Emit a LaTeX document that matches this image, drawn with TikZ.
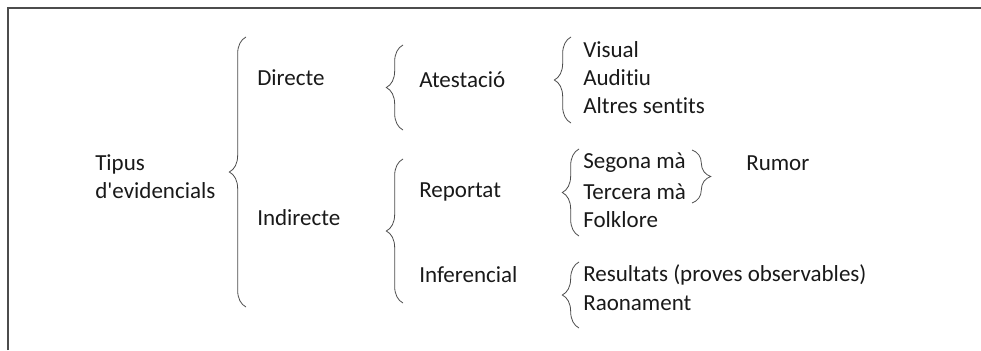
\documentclass[tikz,border=0pt]{standalone}
\usepackage{fontspec}
\setmainfont{Carlito}[Ligatures={NoCommon}]
\usetikzlibrary{decorations.pathreplacing,positioning}

\begin{document}
\begin{tikzpicture}[x=0.75pt,y=-0.75pt,
  word/.style={anchor=west,inner sep=0pt,text=black!90,
    font=\fontsize{17.25}{21}\selectfont},
  curly/.style={decorate,decoration={brace,amplitude=#1,aspect=0.5},
    draw=black!70,line width=0.6pt},
  curly/.default=12.5pt]

  \useasboundingbox (0,0) rectangle (981,350);
  \draw[black!70,line width=1.4pt] (8,350) -- (8,8) -- (981,8);

  % labels
  \node[word,align=left] (tipus) at (95,177) {Tipus\\d\textquotesingle evidencials};
  \node[word] (directe) at (257,78) {Directe};
  \node[word] (indirecte) at (257,218) {Indirecte};
  \node[word] (atestacio) at (419,80) {Atestació};
  \node[word] (reportat) at (419,192) {Reportat};
  \node[word] (inferencial) at (419,275) {Inferencial};
  \node[word] (visual) at (583,50) {Visual};
  \node[word] (auditiu) at (583,78) {Auditiu};
  \node[word] (altres) at (583,106) {Altres sentits};
  \node[word] (segona) at (583,163) {Segona mà};
  \node[word] (tercera) at (583,192) {Tercera mà};
  \node[word] (folklore) at (583,220) {Folklore};
  \node[word] (rumor) at (746,163) {Rumor};
  \node[word] (resultats) at (583,275) {Resultats (proves observables)};
  \node[word] (raonament) at (583,303) {Raonament};

  % brace ends
  \coordinate (b1t) at (246,37);  \coordinate (b1b) at (246,307);
  \coordinate (b2t) at (403,45);  \coordinate (b2b) at (403,130);
  \coordinate (b3t) at (571,37);  \coordinate (b3b) at (571,123);
  \coordinate (b4t) at (403,159); \coordinate (b4b) at (403,303);
  \coordinate (b5t) at (579,149); \coordinate (b5b) at (579,236);
  \coordinate (b6t) at (579,262); \coordinate (b6b) at (579,328);
  \coordinate (b7t) at (692,150); \coordinate (b7b) at (692,203);

  \draw[curly] (b1b) -- (b1t);
  \draw[curly] (b2b) -- (b2t);
  \draw[curly] (b3b) -- (b3t);
  \draw[curly] (b4b) -- (b4t);
  \draw[curly] (b5b) -- (b5t);
  \draw[curly] (b6b) -- (b6t);
  \draw[curly=14pt] (b7t) -- (b7b);

\end{tikzpicture}
\end{document}
